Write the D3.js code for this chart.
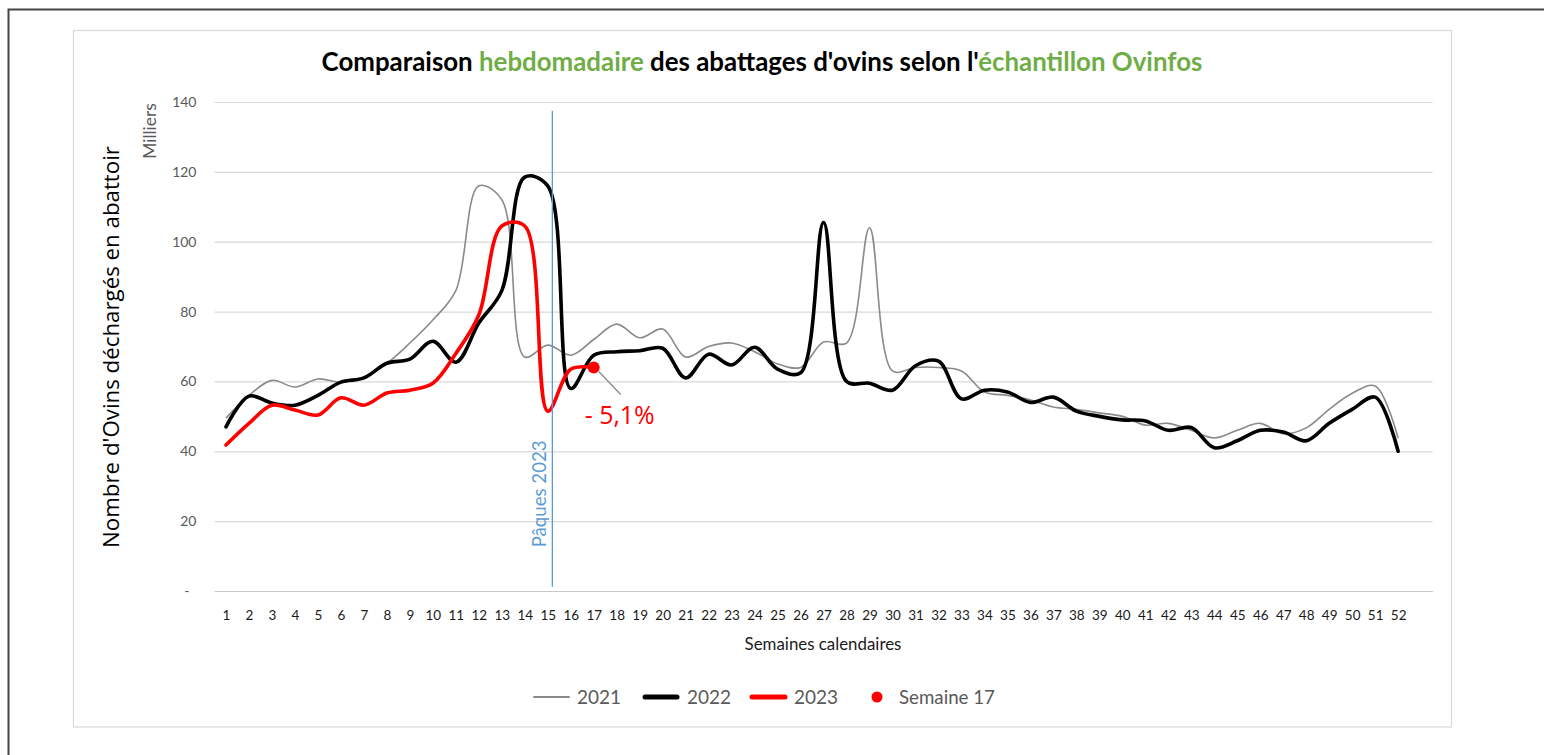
<!DOCTYPE html>
<html><head><meta charset="utf-8">
<script src="https://cdn.jsdelivr.net/npm/d3@7"></script>
<style>html,body{margin:0;padding:0;background:#fff;} svg{display:block}</style>
</head><body>
<svg id="chart" width="1544" height="755"></svg>
<script>
// ---------- DATA ----------
const weeks = [1,2,3,4,5,6,7,8,9,10,11,12,13,14,15,16,17,18,19,20,21,22,23,24,25,26,
  27,28,29,30,31,32,33,34,35,36,37,38,39,40,41,42,43,44,45,46,47,48,49,50,51,52];
const values2021 = [49.5,56,60.3,58.4,60.7,59.8,61.3,65.2,71,77.6,86,116,112,67,70.4,67.5,72,76.4,72.5,75,
  67,70,71,68.5,65,64,71.3,71,104,63,64,64,63,57,56,54.7,52.7,52,51,50,47.5,48,46,43.8,46,48,45,46.7,52,56.6,58.7,43.8];
const values2022 = [47,55.8,53.8,53.2,56,59.8,61,65.2,66.4,71.5,65.5,76.7,86,118.5,116,58,67.5,68.5,68.8,69.5,
  61,67.8,64.7,69.8,63.5,62.5,105.5,60,59.5,57.5,64.5,65.8,55,57.5,57,54,55.5,51.5,50,49,48.7,46,46.8,41,43,46,45.5,43,48,52,55.5,40];
const values2023 = [41.8,48,53.2,51.8,50.4,55.3,53.2,56.7,57.5,59.5,68,79,104.5,104.5,51.5,63.5,64];
const yTicks = [0,20,40,60,80,100,120,140];
const highlightWeek = 17;
const highlightValue = 64;
const highlightLabel = "- 5,1%";
const paquesWeek = 15.2;
const paquesLabel = "Pâques 2023";
const seriesNames = ["2021","2022","2023","Semaine 17"];

// ---------- LAYOUT ----------
const svg = d3.select("#chart");
const FONT = "Lato,'Open Sans',sans-serif";
const plotL = 214.5, plotR = 1432.6, plotT = 102, plotB = 591;

function fitWidth(sel, w){
  const bw = sel.node().getBBox().width;
  const fs = parseFloat(sel.attr("font-size"));
  sel.attr("font-size", (fs*w/bw).toFixed(2));
}

// frame
svg.append("path").attr("d","M8.5,755 L8.5,9.5 L1544,9.5")
  .attr("fill","none").attr("stroke","#454545").attr("stroke-width",2);
svg.append("rect").attr("x",73.5).attr("y",30.5).attr("width",1378).attr("height",696.5)
  .attr("fill","#fff").attr("stroke","#d9d9d9").attr("stroke-width",1.2);

const x = d3.scaleLinear().domain([0.5,53.5]).range([plotL,plotR]);
const y = d3.scaleLinear().domain([0,140]).range([plotB,plotT]);

// title
const title = svg.append("text").attr("x",762).attr("y",71).attr("text-anchor","middle")
  .attr("font-family",FONT).attr("font-weight","bold").attr("font-size",24);
[["Comparaison ","#000"],["hebdomadaire","#70ad47"],[" des abattages d'ovins selon l'","#000"],["échantillon Ovinfos","#70ad47"]]
  .forEach(([t,c])=>title.append("tspan").attr("fill",c).text(t));
fitWidth(title, 881);

// y axis with grid
const yAxis = svg.append("g").attr("transform",`translate(${plotL},0)`)
  .call(d3.axisLeft(y).tickValues(yTicks).tickSize(-(plotR-plotL)).tickPadding(18)
    .tickFormat(d=> d===0 ? "-" : d));
yAxis.select(".domain").remove();
yAxis.selectAll(".tick line").attr("stroke","#d9d9d9").attr("stroke-width",1.2);
yAxis.selectAll(".tick text").attr("font-family",FONT).attr("font-size",14).attr("fill","#595959");
yAxis.selectAll(".tick").filter(d=>d===0).select("text").attr("dx",-7);

// x axis
const xAxis = svg.append("g").attr("transform",`translate(0,${plotB})`)
  .call(d3.axisBottom(x).tickValues(weeks).tickSize(0).tickSizeOuter(0).tickPadding(19));
xAxis.select(".domain").attr("stroke","#c8c8c8").attr("stroke-width",1.2);
xAxis.selectAll(".tick text").attr("font-family",FONT).attr("font-size",13.5).attr("fill","#1a1a1a");

// axis titles
const xt = svg.append("text").attr("x",823).attr("y",650).attr("text-anchor","middle")
  .attr("font-family",FONT).attr("font-size",15).attr("fill","#1a1a1a").text("Semaines calendaires");
fitWidth(xt,157);
const yt = svg.append("text").attr("transform","translate(119,347) rotate(-90)").attr("text-anchor","middle")
  .attr("font-family","'Open Sans','Liberation Sans',sans-serif").attr("font-size",20).attr("fill","#000")
  .text("Nombre d'Ovins déchargés en abattoir");
fitWidth(yt,402);
const mil = svg.append("text").attr("transform","translate(156,131) rotate(-90)").attr("text-anchor","middle")
  .attr("font-family",FONT).attr("font-size",13).attr("fill","#595959").text("Milliers");
fitWidth(mil,56);

// lines
const line = d3.line().x(d=>x(d[0])).y(d=>y(d[1])).curve(d3.curveCatmullRom.alpha(0.5));
const toPts = vals => vals.map((v,i)=>[weeks[i],v]);
svg.append("path").attr("d",line(toPts(values2021))).attr("fill","none")
  .attr("stroke","#8a8a8a").attr("stroke-width",1.6);
svg.append("path").attr("d",line(toPts(values2022))).attr("fill","none")
  .attr("stroke","#000").attr("stroke-width",3.6).attr("stroke-linejoin","round").attr("stroke-linecap","round");
svg.append("path").attr("d",line(toPts(values2023))).attr("fill","none")
  .attr("stroke","#ff0000").attr("stroke-width",3.6).attr("stroke-linejoin","round").attr("stroke-linecap","round");

// Paques line
svg.append("line").attr("x1",x(paquesWeek)).attr("x2",x(paquesWeek))
  .attr("y1",y(137.5)).attr("y2",y(1.2)).attr("stroke","#5b9bd5").attr("stroke-width",1.3);
const pq = svg.append("text").attr("transform",`translate(${x(paquesWeek)-6},${y(12.5)}) rotate(-90)`)
  .attr("font-family",FONT).attr("font-size",15).attr("fill","#5b9bd5").text(paquesLabel);
fitWidth(pq,107);

// highlight point + annotation
const hx = x(highlightWeek), hy = y(highlightValue);
svg.append("line").attr("x1",hx+5).attr("y1",hy+4).attr("x2",hx+27).attr("y2",hy+27)
  .attr("stroke","#8a8a8a").attr("stroke-width",1.3);
svg.append("circle").attr("cx",hx).attr("cy",hy).attr("r",6).attr("fill","#ff0000");
const ann = svg.append("text").attr("x",hx-9).attr("y",hy+57).attr("font-family","'Open Sans','Liberation Sans',sans-serif")
  .attr("font-size",22).attr("fill","#ff0000").text(highlightLabel);
fitWidth(ann,70);

// legend
const ly = 697;
const lg = svg.append("g").attr("font-family",FONT).attr("fill","#595959");
const legendItems = [
  {name:seriesNames[0], type:"line", color:"#8a8a8a", w:2, x0:534, x1:569, tx:577},
  {name:seriesNames[1], type:"line", color:"#000", w:5, x0:645, x1:677, tx:687},
  {name:seriesNames[2], type:"line", color:"#ff0000", w:5, x0:752, x1:785, tx:794},
  {name:seriesNames[3], type:"dot", color:"#ff0000", x0:877, tx:899}
];
let legendFont = 19;
legendItems.forEach(it=>{
  if(it.type==="line"){
    lg.append("line").attr("x1",it.x0).attr("x2",it.x1).attr("y1",ly).attr("y2",ly)
      .attr("stroke",it.color).attr("stroke-width",it.w).attr("stroke-linecap","round");
  } else {
    lg.append("circle").attr("cx",it.x0).attr("cy",ly).attr("r",5.5).attr("fill",it.color);
  }
  const t = lg.append("text").attr("x",it.tx).attr("y",ly+6.5).attr("font-size",legendFont).text(it.name);
  if(it.type==="dot") fitWidth(t,96);
});
</script>
</body></html>
